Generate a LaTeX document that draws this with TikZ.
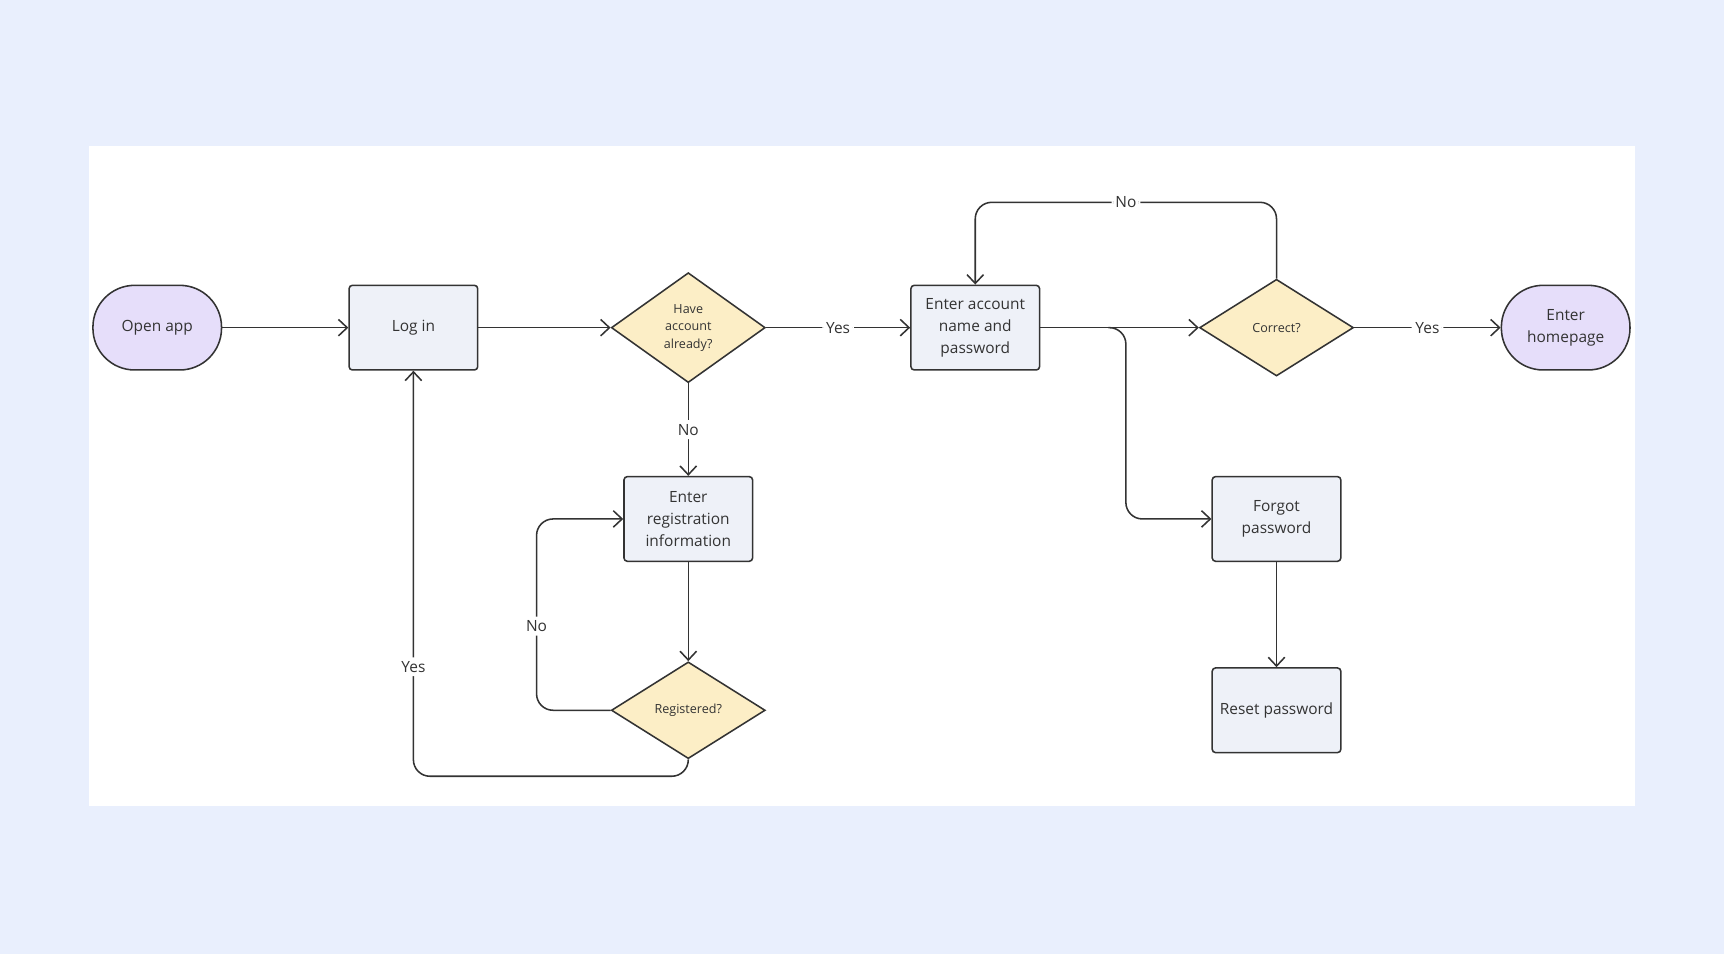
\documentclass[tikz,border=0pt]{standalone}
\usepackage{fontspec}
\setmainfont{Open Sans}
\usetikzlibrary{positioning,arrows.meta,shapes.geometric}
\definecolor{pagebg}{HTML}{E9EFFD}
\definecolor{termfill}{HTML}{E6DEFA}
\definecolor{boxfill}{HTML}{EEF1F8}
\definecolor{decfill}{HTML}{FCEEC6}
\definecolor{edge}{HTML}{333333}
\tikzset{
	>={Straight Barb[length=1.6mm,width=3mm]}
}

\begin{document}
\begin{tikzpicture}[
	x = 0.02cm, y = -0.02cm,
	every node/.style = {
		font = \fontsize{8}{11.4}\selectfont, text = edge
	},
	term/.style = {
		draw = edge, thick, fill = termfill,
		rounded corners = 7.6mm,
		minimum width = 2.34cm, minimum height = 1.54cm
	},
	process/.style = {
		draw = edge, thick, fill = boxfill,
		rounded corners = 0.6mm, align = center,
		minimum width = 2.34cm, minimum height = 1.54cm
	},
	decision/.style = {
		diamond, draw = edge, thick, fill = decfill,
		inner sep = 0pt, align = center,
		minimum width = 2.8cm, minimum height = 1.76cm,
		font = \fontsize{6.5}{9}\selectfont
	},
	flow/.style = {
		->, thick, draw = edge, rounded corners = 3mm
	},
	tag/.style = {
		fill = white, inner sep = 2pt
	}
	]
	
	\fill[pagebg] (0,0) rectangle (1568,868);
	\fill[white] (81,133) rectangle (1487,733);
	\useasboundingbox (0,0) rectangle (1568,868);
	
	\node (open) [term] at (143,298) {Open app};
	\node (login) [process] at (376,298) {Log in};
	\node (have) [decision, minimum height = 2cm] at (626,298) {Have\\account\\already?};
	\node (account) [process] at (887,298) {Enter account\\name and\\password};
	\node (correct) [decision] at (1161,298) {Correct?};
	\node (home) [term, align = center] at (1424,298) {Enter\\homepage};
	\node (register) [process] at (626,472) {Enter\\registration\\information};
	\node (registered) [decision] at (626,646) {Registered?};
	\node (forgot) [process] at (1161,472) {Forgot\\password};
	\node (reset) [process] at (1161,646) {Reset password};
	
	\draw[flow] (open) -- (login);
	\draw[flow] (login) -- (have);
	\draw[flow] (have) -- node[tag] {Yes} (account);
	\draw[flow] (account) -- (correct);
	\draw[flow] (correct) -- node[tag] {Yes} (home);
	\draw[flow] (correct.north) |- node[tag, pos = 0.75] {No} (887,184) -- (account.north);
	\draw[flow] (have) -- node[tag] {No} (register);
	\draw[flow] (register) -- (registered);
	\draw[flow] (registered.west) -| node[tag, pos = 0.72] {No} (488,472) -- (register.west);
	\draw[flow] (registered.south) |- (376,706) -- node[tag, pos = 0.27] {Yes} (login.south);
	\draw[flow] (1008,298) -- (1024,298) |- (forgot.west);
	\draw[flow] (forgot) -- (reset);
	
\end{tikzpicture}
\end{document}
